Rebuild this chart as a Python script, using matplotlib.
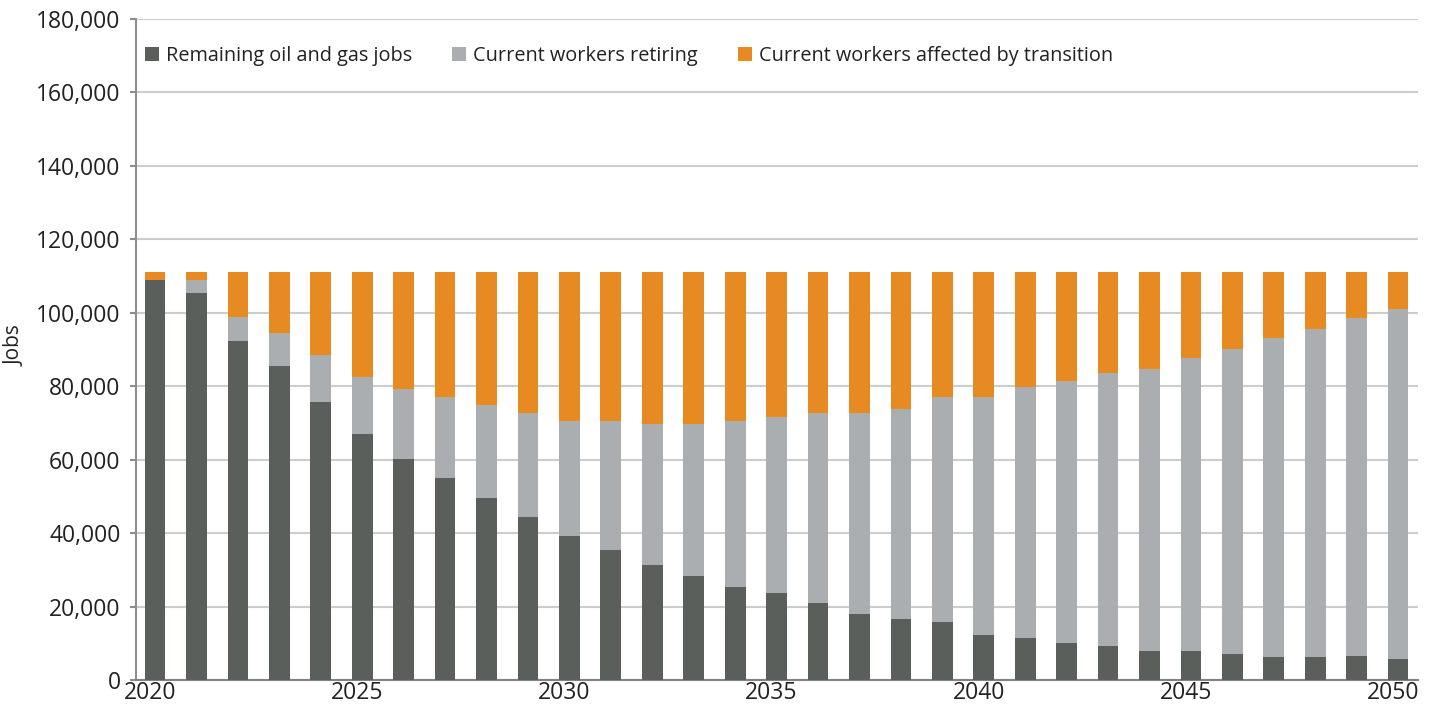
import numpy as np
import matplotlib
matplotlib.use('Agg')
import matplotlib.pyplot as plt
from matplotlib.transforms import ScaledTranslation
from matplotlib.ticker import FuncFormatter

years = list(range(2020, 2051))
remaining = [108900, 105400, 92300, 85600, 75600, 66900, 60300, 55100, 49500, 44300,
             39300, 35500, 31200, 28200, 25400, 23800, 21100, 18000, 16600, 15800,
             12300, 11500, 10100, 9300, 7900, 7900, 7100, 6300, 6300, 6500, 5700]
retiring = [0, 3500, 6500, 8900, 13000, 15700, 18900, 21900, 25300, 28300,
            31100, 34900, 38400, 41400, 45000, 47900, 51500, 54600, 57300, 61200,
            64700, 68400, 71200, 74200, 76900, 79900, 82900, 86700, 89400, 92200, 95200]
affected = [2300, 2300, 12400, 16700, 22600, 28600, 32000, 34200, 36400, 38600,
            40800, 40800, 41600, 41600, 40800, 39500, 38600, 38600, 37300, 34200,
            34200, 31300, 29900, 27700, 26400, 23400, 21200, 18200, 15500, 12500, 10300]
series_names = ['Remaining oil and gas jobs', 'Current workers retiring',
                'Current workers affected by transition']
colors = ['#5a5f5c', '#aaaeb0', '#e88a22']

plt.rcParams['font.family'] = ['Open Sans', 'DejaVu Sans']
text_color = '#222222'

fig = plt.figure(figsize=(14.42, 7.15), dpi=100)
ax = fig.add_axes([136 / 1442, 35 / 715, 1282 / 1442, 661 / 715])

x = np.array(years)
rem = np.array(remaining)
ret = np.array(retiring)
aff = np.array(affected)
w = 0.5
ax.bar(x, rem, width=w, color=colors[0], label=series_names[0], zorder=3)
ax.bar(x, ret, width=w, bottom=rem, color=colors[1], label=series_names[1], zorder=3)
ax.bar(x, aff, width=w, bottom=rem + ret, color=colors[2], label=series_names[2], zorder=3)

ax.set_ylim(0, 180000)
ax.set_xlim(2019.54, 2050.48)
ax.set_yticks(np.arange(0, 180001, 20000))
ax.yaxis.set_major_formatter(FuncFormatter(lambda v, p: f'{int(v):,}'))
ax.set_xticks([2020, 2025, 2030, 2035, 2040, 2045, 2050])
ax.grid(axis='y', color='#cbcece', linewidth=1.5, zorder=0)
ax.set_axisbelow(True)

for s in ['top', 'right']:
    ax.spines[s].set_visible(False)
ax.spines['left'].set_color('#8c8f8f')
ax.spines['left'].set_linewidth(1.5)
ax.spines['bottom'].set_color('#7f8382')
ax.spines['bottom'].set_linewidth(1.5)

ax.tick_params(axis='y', length=4, width=1.5, color='#8c8f8f', labelsize=16.5,
               labelcolor=text_color, pad=7)
ax.tick_params(axis='x', length=0, labelsize=16.5, labelcolor=text_color, pad=1)
offset = ScaledTranslation(-5 / 100, 0, fig.dpi_scale_trans)
for lab in ax.get_xticklabels():
    lab.set_transform(lab.get_transform() + offset)

fig.text(15 / 1442, 1 - 346 / 715, 'Jobs', rotation=90, fontsize=15, color=text_color,
         ha='center', va='center')

leg = ax.legend(loc='upper left', bbox_to_anchor=(-0.004, 0.98), ncol=3, frameon=False,
                fontsize=14.3, handlelength=0.72, handleheight=0.72, handletextpad=0.35,
                columnspacing=2.0, borderaxespad=0.3)
for t in leg.get_texts():
    t.set_color(text_color)

fig.savefig('out.png', dpi=100)
